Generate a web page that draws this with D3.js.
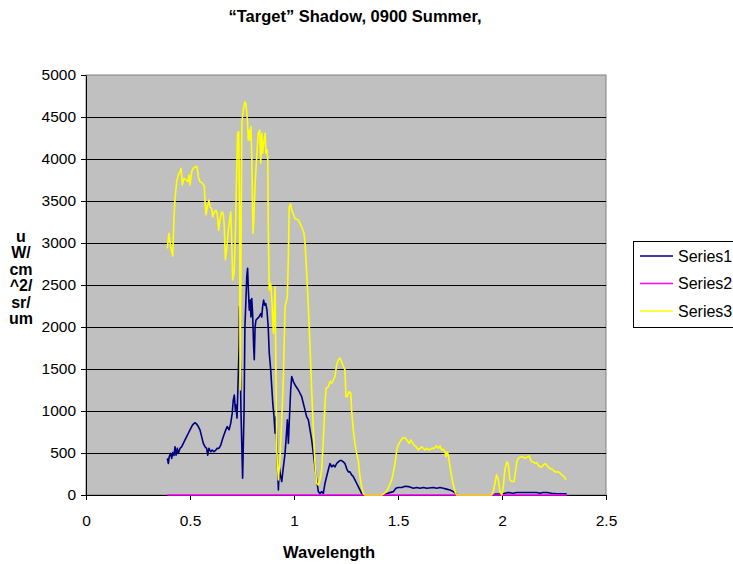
<!DOCTYPE html>
<html>
<head>
<meta charset="utf-8">
<script src="https://cdn.jsdelivr.net/npm/d3@7"></script>
<style>
 body { margin: 0; background: #fff; }
 text { font-family: Arial, "Liberation Sans", sans-serif; }
</style>
</head>
<body>
<svg></svg>
<script>
// chart values
const xTicks = [0, 0.5, 1, 1.5, 2, 2.5];
const yTicks = [0, 500, 1000, 1500, 2000, 2500, 3000, 3500, 4000, 4500, 5000];
const seriesNames = ["Series1", "Series2", "Series3"];
const seriesColors = ["#000080", "#ff00ff", "#ffff00"];

// Series1 (navy)
const s1Wl = [0.391, 0.396, 0.400, 0.407, 0.412, 0.417, 0.423, 0.428, 0.433, 0.439, 0.444, 0.452, 0.460, 0.468, 0.476,
 0.484, 0.492, 0.500, 0.508, 0.516, 0.524, 0.532, 0.540, 0.548, 0.556, 0.564, 0.572, 0.580, 0.585, 0.591, 0.600,
 0.607, 0.615, 0.624, 0.631, 0.639, 0.648, 0.655, 0.663, 0.672, 0.679, 0.688, 0.696, 0.703, 0.708, 0.713, 0.718,
 0.721, 0.726, 0.731, 0.736, 0.738, 0.745, 0.753, 0.760, 0.764, 0.773, 0.777, 0.780, 0.785, 0.790, 0.793, 0.797,
 0.801, 0.806, 0.809, 0.813, 0.817, 0.824, 0.832, 0.840, 0.845, 0.849, 0.854, 0.859, 0.864, 0.870, 0.876, 0.881,
 0.888, 0.893, 0.898, 0.904, 0.909, 0.913, 0.920, 0.925, 0.929, 0.936, 0.941, 0.949, 0.957, 0.965, 0.968, 0.973,
 0.977, 0.984, 0.989, 0.997, 1.005, 1.021, 1.037, 1.045, 1.053, 1.061, 1.069, 1.077, 1.085, 1.093, 1.101, 1.109,
 1.117, 1.125, 1.133, 1.141, 1.149, 1.157, 1.165, 1.173, 1.181, 1.189, 1.197, 1.205, 1.213, 1.221, 1.229, 1.237,
 1.245, 1.253, 1.261, 1.269, 1.277, 1.285, 1.293, 1.301, 1.309, 1.317, 1.325, 1.333, 1.422, 1.477, 1.490, 1.501,
 1.518, 1.534, 1.550, 1.574, 1.590, 1.606, 1.622, 1.638, 1.670, 1.686, 1.702, 1.718, 1.734, 1.750, 1.766, 1.782,
 1.790, 1.957, 1.966, 1.999, 2.014, 2.030, 2.054, 2.071, 2.119, 2.167, 2.183, 2.196, 2.215, 2.239, 2.263, 2.311];
const s1Val = [435, 375, 455, 495, 435, 505, 470, 575, 475, 555, 495, 555, 575, 615, 655,
 695, 735, 775, 815, 845, 860, 845, 815, 775, 695, 615, 575, 555, 475, 555, 515,
 535, 515, 535, 555, 555, 595, 655, 715, 775, 815, 775, 855, 975, 1130, 1190, 1010,
 1070, 915, 1330, 1765, 2240, 1000, 200, 1010, 2000, 2600, 2700, 2480, 2200, 2320, 2120, 2340,
 2160, 1765, 1610, 2000, 2080, 2100, 2120, 2160, 2120, 2240, 2320, 2260, 2280, 2200, 2000, 1690,
 1490, 1290, 1090, 930, 735, 930, 415, 60, 335, 220, 160, 335, 495, 775, 895, 615,
 855, 1250, 1410, 1350, 1310, 1250, 1170, 1090, 1010, 930, 895, 775, 655, 495, 335, 180,
 40, 20, 40, 20, 140, 220, 300, 375, 335, 355, 335, 375, 395, 410, 410, 395,
 375, 315, 275, 275, 240, 220, 180, 140, 100, 60, 20, 0, 0, 40, 80, 90,
 90, 105, 100, 80, 90, 80, 90, 80, 90, 80, 90, 80, 70, 60, 40, 10,
 0, 0, 10, 10, 20, 30, 20, 30, 30, 30, 20, 30, 30, 20, 15, 15];

// Series2 (magenta) - flat at zero
const s2Wl = [0.391, 2.311];
const s2Val = [0, 0];

// Series3 (yellow)
const s3Wl = [0.391, 0.399, 0.407, 0.417, 0.423, 0.428, 0.436, 0.444, 0.452, 0.457, 0.463, 0.471, 0.481, 0.490, 0.495,
 0.500, 0.508, 0.516, 0.527, 0.534, 0.540, 0.548, 0.561, 0.569, 0.572, 0.577, 0.585, 0.591, 0.596, 0.604, 0.609,
 0.617, 0.625, 0.631, 0.638, 0.644, 0.652, 0.660, 0.665, 0.670, 0.676, 0.683, 0.689, 0.696, 0.700, 0.705, 0.712,
 0.716, 0.721, 0.726, 0.729, 0.734, 0.738, 0.741, 0.749, 0.756, 0.764, 0.769, 0.777, 0.780, 0.784, 0.788, 0.793,
 0.797, 0.800, 0.803, 0.806, 0.813, 0.821, 0.828, 0.835, 0.840, 0.845, 0.849, 0.855, 0.861, 0.865, 0.870, 0.874,
 0.876, 0.881, 0.888, 0.894, 0.901, 0.909, 0.917, 0.925, 0.933, 0.941, 0.949, 0.957, 0.968, 0.973, 0.977, 0.984,
 0.989, 1.005, 1.021, 1.037, 1.048, 1.053, 1.061, 1.069, 1.077, 1.085, 1.093, 1.101, 1.109, 1.117, 1.125, 1.133,
 1.141, 1.149, 1.154, 1.165, 1.173, 1.181, 1.189, 1.197, 1.205, 1.213, 1.221, 1.229, 1.237, 1.245, 1.250, 1.256,
 1.264, 1.273, 1.277, 1.285, 1.293, 1.301, 1.309, 1.317, 1.325, 1.333, 1.341, 1.422, 1.446, 1.470, 1.486, 1.494,
 1.501, 1.510, 1.521, 1.534, 1.554, 1.561, 1.577, 1.587, 1.598, 1.606, 1.614, 1.630, 1.641, 1.650, 1.662, 1.673,
 1.686, 1.694, 1.702, 1.710, 1.718, 1.726, 1.731, 1.737, 1.742, 1.750, 1.758, 1.766, 1.774, 1.782, 1.950, 1.958,
 1.966, 1.974, 1.982, 1.990, 1.999, 2.006, 2.014, 2.023, 2.030, 2.038, 2.047, 2.058, 2.066, 2.071, 2.078, 2.087,
 2.099, 2.111, 2.119, 2.126, 2.131, 2.138, 2.143, 2.150, 2.159, 2.167, 2.174, 2.183, 2.191, 2.198, 2.207, 2.215,
 2.222, 2.231, 2.244, 2.255, 2.271, 2.279, 2.287, 2.298, 2.308];
const s3Val = [2935, 3115, 2955, 2845, 3310, 3530, 3730, 3810, 3850, 3890, 3690, 3770, 3750, 3730, 3810,
 3690, 3850, 3890, 3910, 3910, 3790, 3730, 3710, 3670, 3510, 3335, 3450, 3510, 3430, 3410, 3310,
 3370, 3390, 3350, 3150, 3275, 3370, 3350, 3190, 2800, 2915, 3115, 3250, 3370, 3075, 2560, 2640,
 2915, 3430, 4025, 4305, 4325, 3430, 1250, 4425, 4580, 4680, 4660, 4425, 4225, 4345, 4225, 4385,
 4030, 3510, 3115, 3235, 3710, 4030, 4305, 4345, 3950, 4305, 4070, 4200, 4305, 4070, 4110, 3990,
 3235, 2440, 2520, 2300, 1925, 2480, 535, 180, 450, 900, 1400, 2240, 2360, 2840, 3430, 3465,
 3390, 3290, 3275, 3190, 3115, 3000, 2640, 2240, 1765, 1250, 775, 375, 140, 120, 180, 300,
 655, 1090, 1270, 1290, 1350, 1330, 1370, 1410, 1550, 1610, 1630, 1585, 1530, 1490, 1170, 1170,
 1230, 1210, 1010, 775, 615, 495, 415, 220, 100, 20, 0, 0, 40, 180, 375, 535,
 595, 635, 675, 685, 615, 655, 595, 575, 535, 555, 575, 535, 555, 535, 555, 555,
 585, 555, 585, 535, 545, 515, 455, 515, 475, 335, 220, 120, 40, 0, 0, 40,
 140, 240, 190, 40, 0, 100, 300, 395, 375, 180, 160, 160, 300, 395, 435, 450,
 455, 435, 450, 455, 465, 415, 395, 395, 375, 385, 355, 335, 335, 355, 375, 355,
 335, 315, 300, 275, 275, 260, 240, 220, 180];

const series = [
 d3.zip(s1Wl, s1Val),
 d3.zip(s2Wl, s2Val),
 d3.zip(s3Wl, s3Val)
];

// svg setup
const width = 733;
const height = 564;
const margin = {top: 75, right: 127, bottom: 69, left: 86};
let svg = d3.select("svg")
 .attr("width", width)
 .attr("height", height);

let x = d3.scaleLinear().domain([0, 2.5]).range([margin.left, width - margin.right]);
let y = d3.scaleLinear().domain([0, 5000]).range([height - margin.bottom, margin.top]);

// plot area
svg.append("rect")
 .attr("x", x(0))
 .attr("y", y(5000))
 .attr("width", x(2.5) - x(0))
 .attr("height", y(0) - y(5000))
 .style("fill", "#c0c0c0")
 .style("stroke", "#808080")
 .style("stroke-width", 1);

// gridlines
svg.append("g")
 .selectAll("line")
 .data(yTicks.filter(d => d > 0 && d < 5000))
 .join("line")
 .attr("x1", x(0))
 .attr("x2", x(2.5))
 .attr("y1", d => Math.round(y(d)) + 0.5)
 .attr("y2", d => Math.round(y(d)) + 0.5)
 .style("stroke", "#000")
 .style("stroke-width", 1);

// axes
let yAxis = svg.append("g")
 .attr("transform", `translate(${x(0)},0)`)
 .call(d3.axisLeft(y).tickValues(yTicks).tickFormat(d3.format("d")).tickSize(5).tickSizeOuter(0).tickPadding(5));
let xAxis = svg.append("g")
 .attr("transform", `translate(0,${y(0)})`)
 .call(d3.axisBottom(x).tickValues(xTicks).tickFormat(d3.format("")).tickSize(5).tickSizeOuter(0).tickPadding(15));
[yAxis, xAxis].forEach(a => {
 a.selectAll("text").style("font-size", "15.5px").style("fill", "#000");
 a.selectAll("line, path").style("stroke", "#000");
});

// lines
let line = d3.line()
 .x(d => x(d[0]))
 .y(d => y(d[1]));
svg.append("g")
 .selectAll("path")
 .data(series)
 .join("path")
 .attr("d", line)
 .style("fill", "none")
 .style("stroke", (d, i) => seriesColors[i])
 .style("stroke-width", 1.6)
 .style("stroke-linejoin", "round");

// titles
svg.append("text")
 .attr("x", 355)
 .attr("y", 22)
 .attr("text-anchor", "middle")
 .style("font-size", "16.5px")
 .style("font-weight", "bold")
 .text("\u201cTarget\u201d Shadow, 0900 Summer,");

svg.append("text")
 .attr("x", 329)
 .attr("y", 558)
 .attr("text-anchor", "middle")
 .style("font-size", "16.5px")
 .style("font-weight", "bold")
 .text("Wavelength");

let yLabel = ["u", "W/", "cm", "^2/", "sr/", "um"];
svg.append("text")
 .attr("text-anchor", "middle")
 .style("font-size", "16px")
 .style("font-weight", "bold")
 .selectAll("tspan")
 .data(yLabel)
 .join("tspan")
 .attr("x", 21)
 .attr("y", (d, i) => 242 + i * 16.4)
 .text(d => d);

// legend (runs off the right edge like the original)
let legend = svg.append("g");
legend.append("rect")
 .attr("x", 633.5)
 .attr("y", 241.5)
 .attr("width", 130)
 .attr("height", 86)
 .style("fill", "#fff")
 .style("stroke", "#000");
seriesNames.forEach((name, i) => {
 let ly = 256 + i * 27.5;
 legend.append("line")
 .attr("x1", 640).attr("x2", 673)
 .attr("y1", ly).attr("y2", ly)
 .style("stroke", seriesColors[i])
 .style("stroke-width", 1.6);
 legend.append("text")
 .attr("x", 678)
 .attr("y", ly + 5.5)
 .style("font-size", "16px")
 .text(name);
});
</script>
</body>
</html>
